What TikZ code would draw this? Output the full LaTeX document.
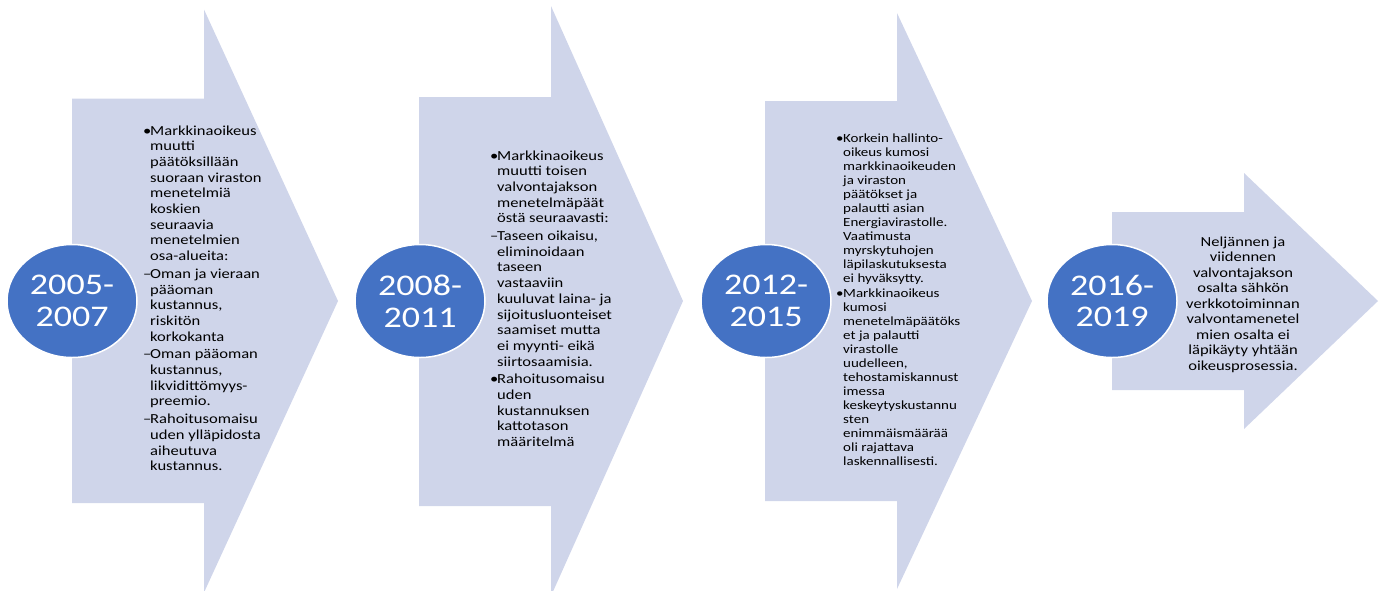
\documentclass[tikz,border=0pt]{standalone}
\usepackage{fontspec}
\setmainfont{Carlito}[FakeStretch=1.2]
\usetikzlibrary{shapes.geometric}
\definecolor{arrowfill}{HTML}{CFD5EA}
\definecolor{discfill}{HTML}{4472C4}
\newcommand{\itemsign}[1]{\llap{\makebox[7pt][l]{#1}}}
\tikzset{
    shaft/.style={fill=arrowfill}, % the big chevron arrows
    year/.style={ellipse, fill=discfill, draw=white, line width=1.5pt,
        minimum width=130pt, minimum height=113pt, inner sep=0pt,
        text=white, align=center, font=\fontsize{30}{31.7}\selectfont},
    notes/.style={anchor=north west, align=left, inner sep=0pt,
        font=\fontsize{13.8}{15.7}\selectfont},
}

\begin{document}
\begin{tikzpicture}[x=1pt, y=-1pt]
  \useasboundingbox (0,0) rectangle (1383,590);

  \fill[shaft] (72,98.5) -- (204,98.5) -- (204,9.5) -- (338,301)
    -- (204,592.5) -- (204,503) -- (72,503) -- cycle;
  \fill[shaft] (419,97) -- (551,97) -- (551,6) -- (683,301)
    -- (551,596) -- (551,506) -- (419,506) -- cycle;
  \fill[shaft] (765,101) -- (897,101) -- (897,13) -- (1032,301)
    -- (897,589) -- (897,501) -- (765,501) -- cycle;
  \fill[shaft] (1112,212) -- (1244,212) -- (1244,173) -- (1378,301)
    -- (1244,429) -- (1244,390) -- (1112,390) -- cycle;

  \node[year] (y1) at (72,301) {2005-\\2007};
  \node[notes] (t1) at (150,125.3) {\itemsign{•}Markkinaoikeus\\ muutti\\
    päätöksillään\\ suoraan viraston\\ menetelmiä\\ koskien\\ seuraavia\\
    menetelmien\\ osa-alueita:\\[2pt]
    \itemsign{–}Oman ja vieraan\\ pääoman\\ kustannus,\\ riskitön\\
    korkokanta\\[2pt]
    \itemsign{–}Oman pääoman\\ kustannus,\\ likvidittömyys-\\ preemio.\\[2pt]
    \itemsign{–}Rahoitusomaisu\\ uden ylläpidosta\\ aiheutuva\\ kustannus.};

  \node[year] (y2) at (420,301) {2008-\\2011};
  \node[notes] (t2) at (497,150.3) {\itemsign{•}Markkinaoikeus\\ muutti toisen\\
    valvontajakson\\ menetelmäpäät\\ östä seuraavasti:\\[2pt]
    \itemsign{–}Taseen oikaisu,\\ eliminoidaan\\ taseen\\ vastaaviin\\
    kuuluvat laina- ja\\ sijoitusluonteiset\\ saamiset mutta\\
    ei myynti- eikä\\ siirtosaamisia.\\[2pt]
    \itemsign{•}Rahoitusomaisu\\ uden\\ kustannuksen\\ kattotason\\ määritelmä};

  \node[year] (y3) at (766,301) {2012-\\2015};
  \node[notes, font=\fontsize{12.5}{14}\selectfont] (t3) at (843,133.3)
    {\itemsign{•}Korkein hallinto-\\ oikeus kumosi\\ markkinaoikeuden\\
    ja viraston\\ päätökset ja\\ palautti asian\\ Energiavirastolle.\\
    Vaatimusta\\ myrskytuhojen\\ läpilaskutuksesta\\ ei hyväksytty.\\[1.5pt]
    \itemsign{•}Markkinaoikeus\\ kumosi\\ menetelmäpäätöks\\ et ja palautti\\
    virastolle\\ uudelleen,\\ tehostamiskannust\\ imessa\\
    keskeytyskustannu\\ sten\\ enimmäismäärää\\ oli rajattava\\
    laskennallisesti.};

  \node[year] (y4) at (1112,301) {2016-\\2019};
  \node[notes, anchor=north, align=center,
    font=\fontsize{13.8}{15.5}\selectfont] (t4) at (1243,236.3)
    {Neljännen ja\\ viidennen\\ valvontajakson\\ osalta sähkön\\
    verkkotoiminnan\\ valvontamenetel\\ mien osalta ei\\
    läpikäyty yhtään\\ oikeusprosessia.};
\end{tikzpicture}
\end{document}
